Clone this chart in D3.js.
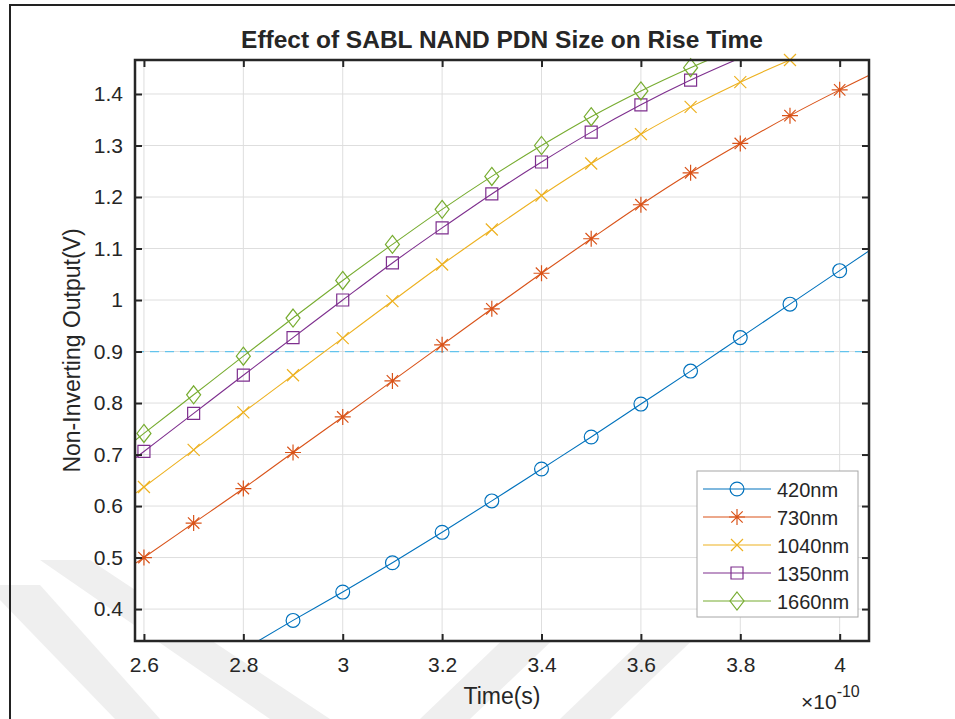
<!DOCTYPE html>
<html>
<head>
<meta charset="utf-8">
<script src="https://cdn.jsdelivr.net/npm/d3@7"></script>
<style>
body { margin: 0; background: #fff; }
text { font-family: "Liberation Sans", Arial, Helvetica, sans-serif; fill: #262626; }
</style>
</head>
<body>
<svg id="chart" width="955" height="719"></svg>
<script>
// tick values / labels
var xTicks = [2.6, 2.8, 3.0, 3.2, 3.4, 3.6, 3.8, 4.0]
var xTickLabels = ['2.6', '2.8', '3', '3.2', '3.4', '3.6', '3.8', '4']
var yTicks = [0.4, 0.5, 0.6, 0.7, 0.8, 0.9, 1.0, 1.1, 1.2, 1.3, 1.4]
var yTickLabels = ['0.4', '0.5', '0.6', '0.7', '0.8', '0.9', '1', '1.1', '1.2', '1.3', '1.4']

// series (time in units of 1e-10 s, output in V)
var sizes = ['420nm', '730nm', '1040nm', '1350nm', '1660nm']
var time420 = [2.8, 2.9, 3.0, 3.1, 3.2, 3.3, 3.4, 3.5, 3.6, 3.7, 3.8, 3.9, 4.0, 4.1]
var out420 = [0.321, 0.378, 0.433, 0.490, 0.549, 0.610, 0.672, 0.734, 0.798, 0.862, 0.927, 0.992, 1.057, 1.122]
var time730 = [2.5, 2.6, 2.7, 2.8, 2.9, 3.0, 3.1, 3.2, 3.3, 3.4, 3.5, 3.6, 3.7, 3.8, 3.9, 4.0, 4.1]
var out730 = [0.434, 0.500, 0.567, 0.634, 0.704, 0.773, 0.843, 0.913, 0.983, 1.052, 1.119, 1.185, 1.247, 1.304, 1.358, 1.408, 1.455]
var time1040 = [2.5, 2.6, 2.7, 2.8, 2.9, 3.0, 3.1, 3.2, 3.3, 3.4, 3.5, 3.6, 3.7, 3.8, 3.9, 4.0]
var out1040 = [0.565, 0.637, 0.709, 0.782, 0.854, 0.926, 0.998, 1.069, 1.137, 1.203, 1.265, 1.322, 1.375, 1.423, 1.466, 1.505]
var time1350 = [2.5, 2.6, 2.7, 2.8, 2.9, 3.0, 3.1, 3.2, 3.3, 3.4, 3.5, 3.6, 3.7, 3.8]
var out1350 = [0.632, 0.706, 0.780, 0.854, 0.927, 1.000, 1.072, 1.140, 1.206, 1.268, 1.326, 1.379, 1.427, 1.470]
var time1660 = [2.5, 2.6, 2.7, 2.8, 2.9, 3.0, 3.1, 3.2, 3.3, 3.4, 3.5, 3.6, 3.7, 3.8]
var out1660 = [0.665, 0.741, 0.816, 0.891, 0.965, 1.038, 1.108, 1.176, 1.240, 1.300, 1.356, 1.406, 1.451, 1.492]
var threshold = 0.9

var colors = ['#0072BD', '#D95319', '#EDB120', '#7E2F8E', '#77AC30']
var markers = ['circle', 'asterisk', 'x', 'square', 'diamond']

var series = [
    {name: sizes[0], t: time420, v: out420},
    {name: sizes[1], t: time730, v: out730},
    {name: sizes[2], t: time1040, v: out1040},
    {name: sizes[3], t: time1350, v: out1350},
    {name: sizes[4], t: time1660, v: out1660}
]

var svg = d3.select('#chart')
var width = +svg.attr('width')
var height = +svg.attr('height')
var margin = {left: 135, right: 86, top: 60, bottom: 78}

// faint watermark in the background
var wm = svg.append('g').attr('fill', '#efefef')
wm.append('path').attr('d', 'M0,585 L40,585 L160,719 L115,719 L0,600 Z')
wm.append('path').attr('d', 'M40,560 L90,560 L330,719 L270,719 Z')
wm.append('path').attr('d', 'M420,719 L560,585 L610,585 L470,719 Z')
wm.append('path').attr('d', 'M560,719 L700,585 L750,585 L610,719 Z')

// figure border
svg.append('rect').attr('x', 10).attr('y', 5).attr('width', 1000).attr('height', 1000)
    .attr('fill', 'none').attr('stroke', '#222').attr('stroke-width', 2)

var xscale = d3.scaleLinear().domain([2.582, 4.059]).range([margin.left, width - margin.right])
var yscale = d3.scaleLinear().domain([0.338, 1.466]).range([height - margin.bottom, margin.top])
var x0 = margin.left, x1 = width - margin.right, y0 = margin.top, y1 = height - margin.bottom

svg.append('rect').attr('x', x0).attr('y', y0).attr('width', x1 - x0).attr('height', y1 - y0).attr('fill', 'white')

// grid
var grid = svg.append('g').attr('stroke', '#dedede').attr('stroke-width', 1)
grid.selectAll('.gx').data(xTicks).enter().append('line')
    .attr('x1', d => xscale(d)).attr('x2', d => xscale(d)).attr('y1', y0).attr('y2', y1)
grid.selectAll('.gy').data(yTicks).enter().append('line')
    .attr('y1', d => yscale(d)).attr('y2', d => yscale(d)).attr('x1', x0).attr('x2', x1)

svg.append('clipPath').attr('id', 'clip').append('rect')
    .attr('x', x0).attr('y', y0).attr('width', x1 - x0).attr('height', y1 - y0)

// threshold dashed line
svg.append('line').attr('x1', x0).attr('x2', x1)
    .attr('y1', yscale(threshold)).attr('y2', yscale(threshold))
    .attr('stroke', '#4DBEEE').attr('stroke-opacity', 0.85).attr('stroke-width', 1.2).attr('stroke-dasharray', '9,6')

function markerPath(type) {
    if (type == 'circle') return d3.symbol(d3.symbolCircle, 150)()
    if (type == 'square') return 'M-6,-6L6,-6L6,6L-6,6Z'
    if (type == 'diamond') return 'M0,-9L7,0L0,9L-7,0Z'
    if (type == 'x') return 'M-6,-6L6,6M-6,6L6,-6'
    return 'M0,-8L0,8M-8,0L8,0M-5.7,-5.7L5.7,5.7M-5.7,5.7L5.7,-5.7'
}

var line = d3.line()
    .x(d => xscale(d[0]))
    .y(d => yscale(d[1]))
    .curve(d3.curveMonotoneX)

var line_g = svg.append('g')
series.forEach(function (s, i) {
    var pts = s.t.map((t, j) => [t, s.v[j]])
    line_g.append('path')
        .attr('clip-path', 'url(#clip)')
        .attr('d', line(pts))
        .attr('fill', 'none')
        .attr('stroke', colors[i])
        .attr('stroke-width', 1.1)
    var inside = pts.filter(p => p[0] >= xscale.domain()[0] && p[0] <= xscale.domain()[1] &&
        p[1] >= yscale.domain()[0] && p[1] <= yscale.domain()[1] + 0.002)
    line_g.selectAll('.m' + i).data(inside).enter().append('path')
        .attr('transform', d => 'translate(' + xscale(d[0]) + ',' + yscale(d[1]) + ')')
        .attr('d', markerPath(markers[i]))
        .attr('fill', 'none')
        .attr('stroke', colors[i])
        .attr('stroke-width', 1.2)
})

// axes (ticks inside, box on)
function styleAxis(g) {
    g.select('.domain').remove()
    g.selectAll('.tick line').attr('stroke', '#262626').attr('stroke-width', 2)
    g.selectAll('.tick text').attr('fill', '#262626').style('font-size', '21px')
}
svg.append('g').attr('transform', 'translate(0,' + y1 + ')')
    .call(d3.axisBottom(xscale).tickValues(xTicks).tickSizeInner(-7).tickPadding(16)
        .tickFormat((d, i) => xTickLabels[i]))
    .call(styleAxis)
svg.append('g').attr('transform', 'translate(0,' + y0 + ')')
    .call(d3.axisTop(xscale).tickValues(xTicks).tickSizeInner(-7).tickFormat(''))
    .call(styleAxis)
svg.append('g').attr('transform', 'translate(' + x0 + ',0)')
    .call(d3.axisLeft(yscale).tickValues(yTicks).tickSizeInner(-7).tickPadding(12)
        .tickFormat((d, i) => yTickLabels[i]))
    .call(styleAxis)
svg.append('g').attr('transform', 'translate(' + x1 + ',0)')
    .call(d3.axisRight(yscale).tickValues(yTicks).tickSizeInner(-7).tickFormat(''))
    .call(styleAxis)

svg.append('rect').attr('x', x0).attr('y', y0).attr('width', x1 - x0).attr('height', y1 - y0)
    .attr('fill', 'none').attr('stroke', '#262626').attr('stroke-width', 2.5)

// legend
var lg = svg.append('g').attr('transform', 'translate(697,471)')
lg.append('rect').attr('width', 161).attr('height', 146)
    .attr('fill', 'white').attr('stroke', '#a6a6a6').attr('stroke-width', 1)
sizes.forEach(function (name, i) {
    var yy = 18 + i * 28
    lg.append('line').attr('x1', 6).attr('x2', 74).attr('y1', yy).attr('y2', yy)
        .attr('stroke', colors[i]).attr('stroke-width', 1.1)
    lg.append('path').attr('transform', 'translate(40,' + yy + ')')
        .attr('d', markerPath(markers[i])).attr('fill', 'none')
        .attr('stroke', colors[i]).attr('stroke-width', 1.2)
    lg.append('text').attr('x', 80).attr('y', yy + 7.5).text(name).style('font-size', '20px').attr('fill', '#000')
})

// labels
svg.append('text').text('Effect of SABL NAND PDN Size on Rise Time')
    .attr('x', 502).attr('y', 48).attr('text-anchor', 'middle')
    .style('font-size', '24.5px').style('font-weight', 'bold').attr('fill', '#000')
svg.append('text').text('Time(s)')
    .attr('x', 502).attr('y', 704).attr('text-anchor', 'middle').style('font-size', '23px')
svg.append('text').text('Non-Inverting Output(V)')
    .attr('transform', 'translate(80,' + (y0 + y1) / 2 + ') rotate(-90)')
    .attr('text-anchor', 'middle').style('font-size', '23px')
var ex = svg.append('text').attr('x', 801).attr('y', 709).style('font-size', '21px')
ex.append('tspan').text('\u00d710')
ex.append('tspan').text('-10').attr('dy', -12).style('font-size', '16px')
</script>
</body>
</html>
